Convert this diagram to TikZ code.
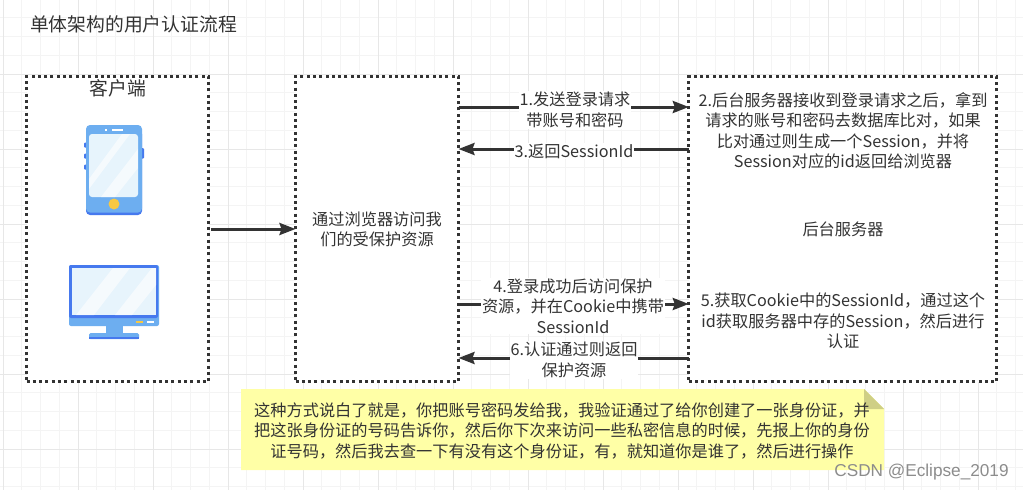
\documentclass[tikz,border=0pt]{standalone}
\usepackage{fontspec}
\usepackage{xcolor}
\usetikzlibrary{arrows.meta}
\setmainfont{Noto Sans CJK SC}
\newfontfamily\markfont{Liberation Sans}
\definecolor{inkgray}{HTML}{333333}
\definecolor{gridlight}{HTML}{F4F4F4}
\definecolor{gridheavy}{HTML}{E7E7E7}
\definecolor{notefill}{HTML}{FFFFA6}
\definecolor{notefold}{HTML}{CFCF85}
\definecolor{iconblue}{HTML}{6DAEF0}
\definecolor{icondark}{HTML}{4679EE}
\definecolor{iconglass}{HTML}{E7F4FC}
\definecolor{icongold}{HTML}{F7C843}
\tikzset{
    dotbox/.style={draw=inkgray, line width=3pt, dash pattern=on 3pt off 3.3pt, fill=white,
        inner sep=0pt, outer sep=0pt},
    flow/.style={draw=inkgray, line width=3pt, -{Stealth[length=16pt, width=12pt, inset=2pt]}},
    txt/.style={text=inkgray, font=\fontsize{16.2}{20.5}\selectfont, align=center, inner sep=1pt},
    lab/.style={txt, fill=white}
}
\begin{document}
\begin{tikzpicture}[x=1pt, y=-1pt]
        \useasboundingbox (0,0) rectangle (1023,490);

        % grid
        \foreach \k in {0,...,54} {
            \pgfmathsetmacro{\gx}{3+18.75*\k}
            \draw[gridlight, line width=1pt] (\gx,0) -- (\gx,490);
        }
        \foreach \k in {0,...,26} {
            \pgfmathsetmacro{\gy}{-1+18.75*\k}
            \draw[gridlight, line width=1pt] (0,\gy) -- (1023,\gy);
        }
        \foreach \k in {0,...,13} {
            \pgfmathsetmacro{\gx}{3+75*\k}
            \draw[gridheavy, line width=1pt] (\gx,0) -- (\gx,490);
        }
        \foreach \k in {1,...,6} {
            \pgfmathsetmacro{\gy}{-1+75*\k}
            \draw[gridheavy, line width=1pt] (0,\gy) -- (1023,\gy);
        }

        \node[txt, font=\fontsize{18.8}{22}\selectfont] (title) at (133.5,24) {单体架构的用户认证流程};

        % the three boxes
        \node[dotbox, minimum width=182pt, minimum height=305.5pt] (client) at (117.5,229.2) {};
        \node[dotbox, minimum width=163pt, minimum height=305.5pt] (browser) at (377,229.2) {};
        \node[dotbox, minimum width=308pt, minimum height=305.5pt] (server) at (842.8,229.2) {};

        \node[txt, font=\fontsize{18.8}{22}\selectfont] (clientlab) at (118,88) {客户端};
        \node[txt] (browserlab) at (377,229.5) {通过浏览器访问我\\们的受保护资源};
        \node[txt] (serverlab) at (843,229) {后台服务器};
        \node[txt] (step2) at (843,130.5) {2.后台服务器接收到登录请求之后，拿到\\请求的账号和密码去数据库比对，如果\\比对通过则生成一个Session，并将\\Session对应的id返回给浏览器};
        \node[txt] (step5) at (843,321) {5.获取Cookie中的SessionId，通过这个\\id获取服务器中存的Session，然后进行\\认证};

        % phone
        \fill[icondark, rounded corners=1pt] (84,142.5) rectangle (88,147.5);
        \fill[icondark, rounded corners=1pt] (84,153.5) rectangle (88,158.5);
        \fill[icondark, rounded corners=1pt] (84,164.5) rectangle (88,169.5);
        \fill[icondark, rounded corners=1pt] (140,148) rectangle (144,158.5);
        \fill[icondark, rounded corners=4pt] (86,130) rectangle (142,215);
        \fill[iconblue, rounded corners=4pt] (86,125) rectangle (142,212.5);
        \fill[iconglass, rounded corners=3pt] (89,134) rectangle (138,197);
        \begin{scope}
            \clip[rounded corners=3pt] (89,134) rectangle (138,197);
            \fill[white, opacity=.6] (89,179) -- (122,134) -- (130,134) -- (89,189) -- cycle;
            \fill[white, opacity=.6] (101,197) -- (138,149) -- (138,168) -- (115,197) -- cycle;
        \end{scope}
        \fill[white] (105,128.5) rectangle (107,130.5);
        \fill[white] (112,128.5) rectangle (123,130.5);
        \fill[icongold] (114,204) circle (5.5pt);

        % monitor
        \fill[iconblue] (105.5,325) rectangle (122.5,334);
        \fill[iconblue, rounded corners=1.5pt] (89,333) rectangle (139,339);
        \fill[icondark] (89,336.5) rectangle (139,339);
        \fill[iconblue, rounded corners=2pt] (69,265) rectangle (159,326);
        \fill[icondark, rounded corners=2pt] (69,265) -- (158,265) -- (158,318) -- (69,318) -- cycle;
        \fill[iconglass] (72,268) rectangle (156,315);
        \begin{scope}
            \clip (72,268) rectangle (156,315);
            \fill[white, opacity=.6] (76,315) -- (113,268) -- (130,268) -- (94,315) -- cycle;
            \fill[white, opacity=.6] (115,315) -- (152,268) -- (156,268) -- (156,285) -- (132,315) -- cycle;
        \end{scope}
        \fill[icongold] (136,321) rectangle (143,323);
        \fill[white] (147,321) rectangle (154,323);

        % connectors, free ends on the box sides
        \coordinate (go0a) at ([xshift=2pt]client.east |- 0,229);
        \coordinate (go0b) at (browser.west |- 0,229);
        \coordinate (go1a) at (browser.east |- 0,107);
        \coordinate (go1b) at (server.west |- 0,107);
        \coordinate (go3a) at (server.west |- 0,149);
        \coordinate (go3b) at (browser.east |- 0,149);
        \coordinate (go4a) at (browser.east |- 0,304);
        \coordinate (go4b) at (server.west |- 0,304);
        \coordinate (go6a) at (server.west |- 0,358);
        \coordinate (go6b) at (browser.east |- 0,358);

        \draw[flow] (go0a) -- (go0b);
        \draw[flow] (go1a) -- (go1b);
        \draw[flow] (go3a) -- (go3b);
        \draw[flow] (go4a) -- (go4b);
        \draw[flow] (go6a) -- (go6b);

        \node[lab] (step1) at (575,110) {1.发送登录请求\\带账号和密码};
        \node[lab] (step3) at (574,151) {3.返回SessionId};
        \node[lab] (step4) at (573,306) {4.登录成功后访问保护\\资源，并在Cookie中携带\\SessionId};
        \node[lab] (step6) at (574,360) {6.认证通过则返回\\保护资源};

        % note with folded corner
        \fill[notefill] (241,389) -- (864,389) -- (884,409) -- (884,470) -- (241,470) -- cycle;
        \fill[notefold] (864,389) -- (884,409) -- (864,409) -- cycle;
        \node[txt] (note) at (562,430.5) {这种方式说白了就是，你把账号密码发给我，我验证通过了给你创建了一张身份证，并\\把这张身份证的号码告诉你，然后你下次来访问一些私密信息的时候，先报上你的身份\\证号码，然后我去查一下有没有这个身份证，有，就知道你是谁了，然后进行操作};

        \node[text=black!45, font=\markfont\fontsize{17.2}{18}\selectfont, inner sep=0pt] (mark) at (921.5,472) {CSDN @Eclipse\_2019};
    \end{tikzpicture}
\end{document}
